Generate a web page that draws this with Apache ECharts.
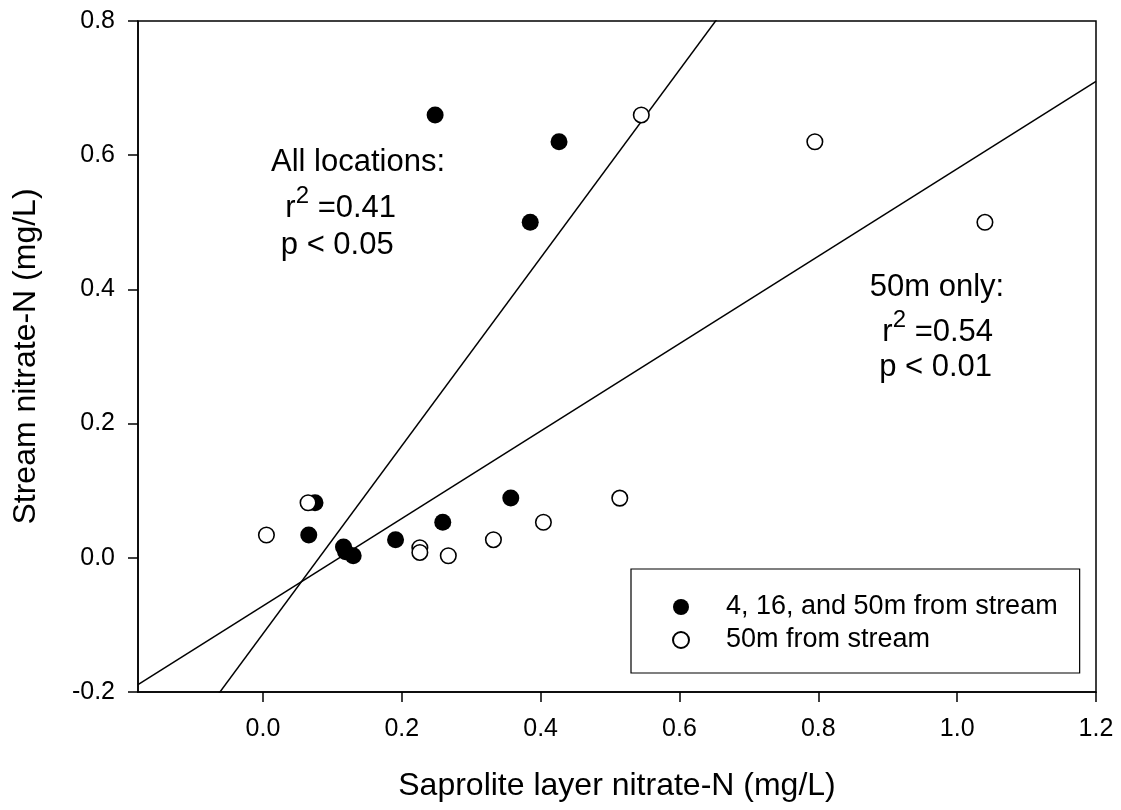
<!DOCTYPE html>
<html>
<head>
<meta charset="utf-8">
<script src="https://cdn.jsdelivr.net/npm/echarts@6/dist/echarts.min.js"></script>
<style>
  html, body { margin: 0; padding: 0; background: #fff; }
  #chart { width: 1121px; height: 810px; }
</style>
</head>
<body>
<div id="chart"></div>
<script>
// ---- data ----
const filledX = [0.248, 0.4265, 0.385, 0.357, 0.259, 0.191, 0.066, 0.075, 0.116, 0.119, 0.130];
const filledY = [0.660, 0.620, 0.500, 0.089, 0.053, 0.027, 0.034, 0.082, 0.016, 0.009, 0.003];
const openX   = [0.545, 0.795, 1.040, 0.514, 0.404, 0.332, 0.226, 0.226, 0.267, 0.065, 0.005];
const openY   = [0.660, 0.620, 0.500, 0.089, 0.053, 0.027, 0.015, 0.008, 0.003, 0.082, 0.034];

const seriesNames = ['4, 16, and 50m from stream', '50m from stream'];

// regression lines: [slope, intercept]
const fitAll = [1.4006, -0.1132];
const fit50m = [0.6515, -0.0717];

const xTicks = [0, 0.2, 0.4, 0.6, 0.8, 1.0, 1.2];
const yTicks = [-0.2, 0, 0.2, 0.4, 0.6, 0.8];
const xRange = [-0.18, 1.2];
const yRange = [-0.2, 0.8];

// annotation texts anchored in data coordinates
const annoX = [0.137, 0.112, 0.107, 0.971, 0.972, 0.969];
const annoY = [0.589, 0.521, 0.466, 0.403, 0.336, 0.284];
const annoText = ['All locations:', '{a|r}{s|2}{a| =0.41}', 'p < 0.05',
                  '50m only:', '{a|r}{s|2}{a| =0.54}', 'p < 0.01'];

const FONT = '"Liberation Sans", Arial, Helvetica, sans-serif';

function zip(xs, ys) { return xs.map((x, i) => [x, ys[i]]); }
function fitLine(f) { return xRange.map(x => [x, f[0] * x + f[1]]); }

const chart = echarts.init(document.getElementById('chart'), null, { renderer: 'canvas' });

const option = {
  backgroundColor: '#ffffff',
  animation: false,
  textStyle: { fontFamily: FONT, color: '#000' },
  grid: {
    left: 138, right: 25, top: 21, bottom: 118,
    show: true, borderColor: '#000', borderWidth: 1.5, backgroundColor: 'transparent'
  },
  legend: {
    orient: 'vertical',
    left: 631, top: 569,
    padding: [24, 22, 19, 41],
    itemGap: 5,
    itemWidth: 16, itemHeight: 16,
    borderColor: '#000', borderWidth: 1.2,
    backgroundColor: '#fff',
    textStyle: { fontFamily: FONT, fontSize: 27, color: '#000', lineHeight: 28, padding: [0, 0, 0, 32] },
    data: seriesNames
  },
  xAxis: {
    type: 'value', min: xRange[0], max: xRange[1],
    name: 'Saprolite layer nitrate-N (mg/L)',
    nameLocation: 'middle', nameGap: 78,
    nameTextStyle: { fontFamily: FONT, fontSize: 32, color: '#000' },
    axisLine: { show: true, onZero: false, lineStyle: { color: '#000', width: 1.5 } },
    axisTick: { show: true, inside: false, length: 10, lineStyle: { color: '#000', width: 1.5 }, customValues: xTicks },
    axisLabel: { show: true, margin: 25, fontFamily: FONT, fontSize: 25, color: '#000',
                 customValues: xTicks, formatter: v => v.toFixed(1) },
    splitLine: { show: false }
  },
  yAxis: {
    type: 'value', min: yRange[0], max: yRange[1],
    name: 'Stream nitrate-N (mg/L)',
    nameLocation: 'middle', nameGap: 96,
    nameTextStyle: { fontFamily: FONT, fontSize: 32, color: '#000' },
    axisLine: { show: true, onZero: false, lineStyle: { color: '#000', width: 1.5 } },
    axisTick: { show: true, inside: false, length: 10, lineStyle: { color: '#000', width: 1.5 }, customValues: yTicks },
    axisLabel: { show: true, margin: 23, fontFamily: FONT, fontSize: 25, color: '#000',
                 customValues: yTicks, formatter: v => v.toFixed(1) },
    splitLine: { show: false }
  },
  series: [
    {
      name: 'fitAll', type: 'line', data: fitLine(fitAll), clip: true,
      symbol: 'none', silent: true, z: 1,
      lineStyle: { color: '#000', width: 1.5 }
    },
    {
      name: 'fit50m', type: 'line', data: fitLine(fit50m), clip: true,
      symbol: 'none', silent: true, z: 1,
      lineStyle: { color: '#000', width: 1.5 }
    },
    {
      name: seriesNames[0], type: 'scatter', data: zip(filledX, filledY),
      symbol: 'circle', symbolSize: 17, z: 3,
      itemStyle: { color: '#000', borderColor: '#000', borderWidth: 0, opacity: 1 }
    },
    {
      name: seriesNames[1], type: 'scatter', data: zip(openX, openY),
      symbol: 'circle', symbolSize: 15.5, z: 4,
      itemStyle: { color: '#fff', borderColor: '#000', borderWidth: 1.6, opacity: 1 }
    },
    {
      name: 'annotations', type: 'scatter', silent: true, z: 5,
      symbolSize: 0,
      itemStyle: { opacity: 1 },
      data: annoX.map((x, i) => ({ value: [x, annoY[i]], name: annoText[i] })),
      label: {
        show: true, position: 'inside',
        formatter: p => p.name,
        fontFamily: FONT, fontSize: 31, color: '#000',
        textBorderWidth: 0, opacity: 1,
        rich: {
          a: { fontFamily: FONT, fontSize: 31, color: '#000', lineHeight: 31, verticalAlign: 'bottom' },
          s: { fontFamily: FONT, fontSize: 24, color: '#000', lineHeight: 24, verticalAlign: 'bottom', padding: [0, 0, 15, 0] }
        }
      }
    }
  ]
};

chart.setOption(option);
</script>
</body>
</html>
